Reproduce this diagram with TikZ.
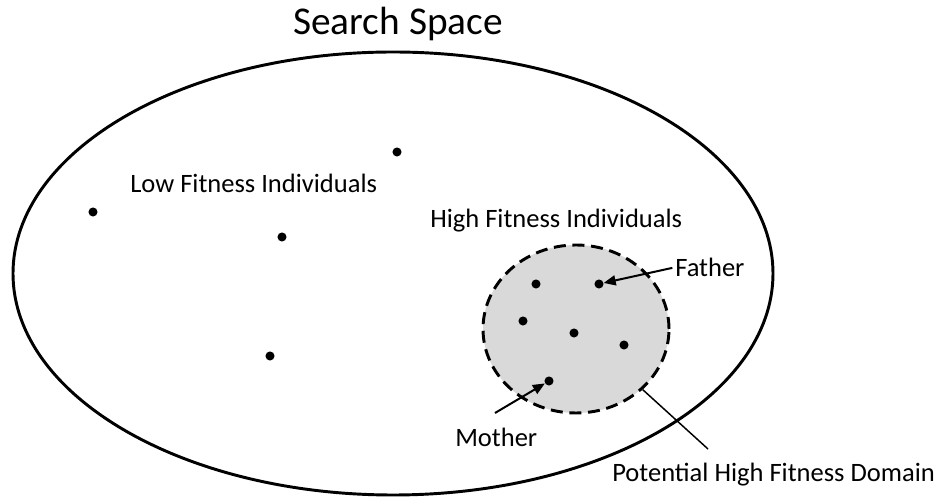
\documentclass[tikz,border=0pt]{standalone}
\usepackage{fontspec}
\setmainfont{Carlito}
\usetikzlibrary{shapes.geometric,arrows.meta}
\definecolor{domfill}{RGB}{217,217,217}
\begin{document}
\begin{tikzpicture}[x=0.75pt,y=-0.75pt,
  dot/.style={circle,fill=black,inner sep=0pt,minimum size=6.8pt},
  label/.style={inner sep=0pt,anchor=base west,font=\fontsize{19.9pt}{24pt}\selectfont},
  pointer/.style={line width=1.5pt,-{Triangle[length=9pt,width=7.5pt]}},
  leader/.style={line width=1.1pt}]
\useasboundingbox (0,0) rectangle (940,498);

% search space boundary and title
\draw[line width=2.2pt] (393,273.5) ellipse [x radius=380, y radius=221.5];
\node[inner sep=0pt,anchor=base,font=\fontsize{29.5pt}{35pt}\selectfont] (title) at (398,35) {Search Space};

% potential high fitness domain
\node[ellipse,draw,dashed,dash pattern=on 9pt off 5pt,line width=2.2pt,fill=domfill,
      minimum width=139.5pt,minimum height=126pt,inner sep=0pt] (dom) at (576,329) {};

% low fitness individuals
\node[dot] (l1) at (397,152) {};
\node[dot] (l2) at (93,212) {};
\node[dot] (l3) at (282,237) {};
\node[dot] (l4) at (270,356) {};

% high fitness individuals
\node[dot] (h1) at (536,284) {};
\node[dot] (h2) at (599,284) {};
\node[dot] (h3) at (523,321) {};
\node[dot] (h4) at (574,333) {};
\node[dot] (h5) at (624,345) {};
\node[dot] (h6) at (549,381) {};

% labels
\node[label] (low) at (130,193) {Low Fitness Individuals};
\node[label] (high) at (430,228) {High Fitness Individuals};
\node[label] (father) at (675,277) {Father};
\node[label] (mother) at (455,447) {Mother};
\node[label] (potential) at (612,482) {Potential High Fitness Domain};

% connectors
\coordinate (mtail) at (495,413);
\coordinate (ptail) at (708,449);
\draw[pointer] ([xshift=-2pt]father.west) -- (h2);
\draw[pointer] (mtail) -- (h6);
\draw[leader] (ptail) -- (dom);
\end{tikzpicture}
\end{document}
